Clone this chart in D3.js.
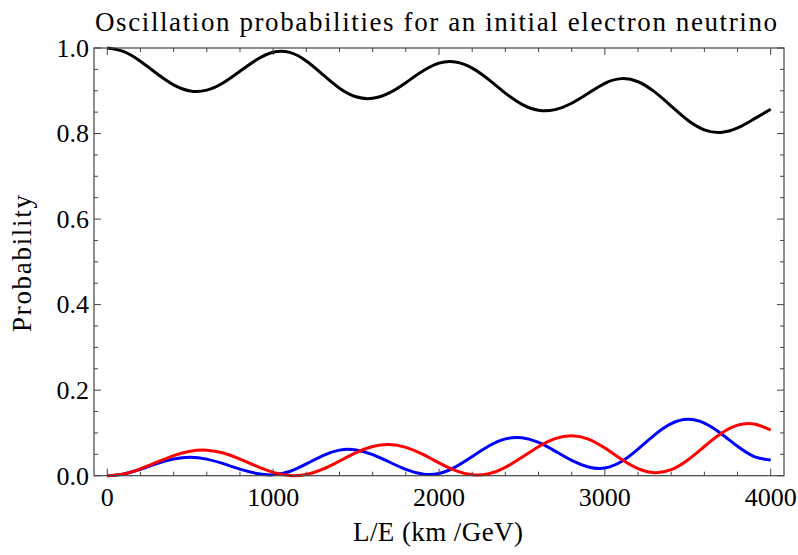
<!DOCTYPE html>
<html>
<head>
<meta charset="utf-8">
<script src="https://cdn.jsdelivr.net/npm/d3@7"></script>
<style>
  body { margin: 0; background: #ffffff; }
  text { font-family: "Liberation Serif", "DejaVu Serif", serif; fill: #000; }
</style>
</head>
<body>
<svg id="chart" width="798" height="555"></svg>
<script>
// -- Data -- //
// L/E sample positions (km/GeV)
let lOverE = [
  0, 100, 200, 300, 400, 500, 600, 700, 800, 900,
  1000, 1100, 1200, 1300, 1400, 1500, 1600, 1700, 1800, 1900,
  2000, 2100, 2200, 2300, 2400, 2500, 2600, 2700, 2800, 2900,
  3000, 3100, 3200, 3300, 3400, 3500, 3600, 3700, 3800, 3900, 4000
];
// Survival probability (black)
let pElectron = [
  1.000, 0.9915, 0.9689, 0.9397, 0.9139, 0.8996, 0.9016, 0.9189, 0.9457, 0.9725,
  0.9902, 0.9897, 0.9696, 0.9376, 0.9060, 0.8859, 0.8823, 0.8950, 0.9190, 0.9455,
  0.9647, 0.9674, 0.9530, 0.9261, 0.8945, 0.8683, 0.8544, 0.8559, 0.8709, 0.8941,
  0.9175, 0.9284, 0.9211, 0.8974, 0.8643, 0.8312, 0.8087, 0.8027, 0.8131, 0.8343, 0.8568
];
// Appearance probability (blue)
let pMuon = [
  0.000, 0.0042, 0.0150, 0.0284, 0.0390, 0.0430, 0.0387, 0.0281, 0.0153, 0.0053,
  0.0020, 0.0099, 0.0276, 0.0471, 0.0598, 0.0603, 0.0495, 0.0320, 0.0147, 0.0042,
  0.0053, 0.0206, 0.0447, 0.0695, 0.0861, 0.0888, 0.0778, 0.0575, 0.0357, 0.0204,
  0.0179, 0.0330, 0.0622, 0.0955, 0.1217, 0.1320, 0.1230, 0.0987, 0.0687, 0.0448, 0.0366
];
// Appearance probability (red)
let pTau = [
  0.000, 0.0043, 0.0161, 0.0319, 0.0471, 0.0574, 0.0597, 0.0530, 0.0390, 0.0222,
  0.0078, 0.0004, 0.0028, 0.0153, 0.0342, 0.0538, 0.0682, 0.0730, 0.0663, 0.0503,
  0.0300, 0.0120, 0.0023, 0.0044, 0.0194, 0.0429, 0.0678, 0.0866, 0.0934, 0.0855,
  0.0646, 0.0386, 0.0167, 0.0071, 0.0140, 0.0368, 0.0683, 0.0986, 0.1182, 0.1209, 0.1066
];
// Tick values
let xMajorTicks = [0, 1000, 2000, 3000, 4000];
let xMinorTicks = d3.range(0, 4001, 200);
let yMajorTicks = [0, 0.2, 0.4, 0.6, 0.8, 1.0];
let yMinorTicks = d3.range(0, 1.0001, 0.05);

// Series colours in draw order
let series = [
  {values: pElectron, colour: "#000000"},
  {values: pMuon, colour: "#0000ff"},
  {values: pTau, colour: "#ff0000"},
];

drawChart();

// Draw the framed plot
function drawChart() {
  let svg = d3.select("#chart");
  let frame = {left: 94, right: 784, top: 48, bottom: 475.7};
  let x = d3.scaleLinear().domain([-80, 4080]).range([frame.left, frame.right]);
  let y = d3.scaleLinear().domain([0, 1]).range([frame.bottom, frame.top]);
  let axisColour = "#444444";

  // Curves
  let line = d3.line()
    .x((d, i) => x(lOverE[i]))
    .y(d => y(d))
    .curve(d3.curveNatural);
  let curves = svg.append("g");
  series.forEach(s => {
    curves.append("path")
      .attr("d", line(s.values))
      .attr("fill", "none")
      .attr("stroke", s.colour)
      .attr("stroke-width", 3)
      .attr("stroke-linejoin", "round");
  });

  // Ticks pointing inward on all four sides
  let ticks = svg.append("g").attr("stroke", axisColour).attr("stroke-width", 1);
  function xTick(v, len) {
    ticks.append("line").attr("x1", x(v)).attr("x2", x(v))
      .attr("y1", frame.bottom).attr("y2", frame.bottom - len);
    ticks.append("line").attr("x1", x(v)).attr("x2", x(v))
      .attr("y1", frame.top).attr("y2", frame.top + len);
  };
  function yTick(v, len) {
    ticks.append("line").attr("x1", frame.left).attr("x2", frame.left + len)
      .attr("y1", y(v)).attr("y2", y(v));
    ticks.append("line").attr("x1", frame.right).attr("x2", frame.right - len)
      .attr("y1", y(v)).attr("y2", y(v));
  };
  xMinorTicks.forEach(v => xTick(v, xMajorTicks.includes(v) ? 7 : 4));
  yMinorTicks.forEach(v => {
    let major = yMajorTicks.some(m => Math.abs(m - v) < 1e-6);
    yTick(v, major ? 7 : 4);
  });

  // Frame
  svg.append("rect")
    .attr("x", frame.left).attr("y", frame.top)
    .attr("width", frame.right - frame.left)
    .attr("height", frame.bottom - frame.top)
    .attr("fill", "none")
    .attr("stroke", axisColour)
    .attr("stroke-width", 1.2);

  // Tick labels
  svg.append("g").selectAll("text")
    .data(xMajorTicks)
    .join("text")
    .attr("x", d => x(d))
    .attr("y", 506)
    .attr("text-anchor", "middle")
    .attr("font-size", 26)
    .text(d => d);
  svg.append("g").selectAll("text")
    .data(yMajorTicks)
    .join("text")
    .attr("x", 89)
    .attr("y", d => y(d))
    .attr("dy", "0.34em")
    .attr("text-anchor", "end")
    .attr("font-size", 26)
    .text(d => d3.format(".1f")(d));

  // Title and axis labels
  svg.append("text")
    .attr("x", 436).attr("y", 31)
    .attr("text-anchor", "middle")
    .attr("font-size", 27)
    .attr("textLength", 682)
    .attr("lengthAdjust", "spacing")
    .text("Oscillation probabilities for an initial electron neutrino");
  svg.append("text")
    .attr("x", 438).attr("y", 541)
    .attr("text-anchor", "middle")
    .attr("font-size", 27)
    .attr("textLength", 170)
    .attr("lengthAdjust", "spacing")
    .text("L/E (km /GeV)");
  svg.append("text")
    .attr("transform", "translate(31,263.5) rotate(-90)")
    .attr("text-anchor", "middle")
    .attr("font-size", 27)
    .attr("textLength", 137)
    .attr("lengthAdjust", "spacing")
    .text("Probability");
};
</script>
</body>
</html>
